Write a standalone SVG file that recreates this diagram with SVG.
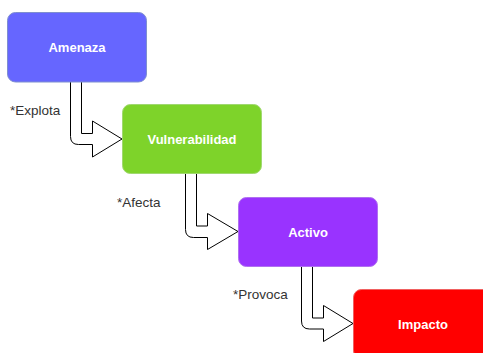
<svg xmlns="http://www.w3.org/2000/svg" width="483" height="353" viewBox="0 0 483 353">
  <style>
    .box { stroke-width: 1; }
    .node-label { font-family: "Liberation Sans", Arial, Helvetica, sans-serif; font-size: 13px; font-weight: bold; fill: #ffffff; text-anchor: middle; dominant-baseline: central; }
    .edge-label { font-family: "Liberation Sans", Arial, Helvetica, sans-serif; font-size: 13.5px; fill: #333333; dominant-baseline: central; }
    .flex-arrow { fill: #ffffff; stroke: #000000; stroke-width: 1; stroke-linejoin: miter; }
  </style>
  <rect width="483" height="353" fill="#ffffff"/>

  <!-- block arrows between the stages -->
  <g id="connectors">
    <path class="flex-arrow" d="M70.5,82 L70.5,136.5 Q70.5,144.5 78.5,144.5 L92.5,144.5 L92.5,157 L122,139 L92.5,121 L92.5,133.5 L81.5,133.5 L81.5,82"/>
    <path class="flex-arrow" d="M185.5,174 L185.5,229.5 Q185.5,237.5 193.5,237.5 L207.5,237.5 L207.5,249.5 L238,231.5 L207.5,213.5 L207.5,226 L196.5,226 L196.5,174"/>
    <path class="flex-arrow" d="M301.5,266 L301.5,321 Q301.5,329 309.5,329 L323.5,329 L323.5,341.5 L353,323.5 L323.5,305.5 L323.5,318 L312.5,318 L312.5,266"/>
    <text class="edge-label" x="10" y="110">*Explota</text>
    <text class="edge-label" x="117" y="202">*Afecta</text>
    <text class="edge-label" x="233" y="294">*Provoca</text>
  </g>

  <g id="amenaza">
    <rect class="box" x="7.5" y="12.5" width="139" height="69.5" rx="8" fill="#6666ff" stroke="#7f8fd0"/>
    <text class="node-label" x="77" y="47">Amenaza</text>
  </g>

  <g id="vulnerabilidad">
    <rect class="box" x="122.5" y="104.5" width="139" height="69" rx="8" fill="#7ed32a" stroke="#a0d870"/>
    <text class="node-label" x="192" y="139">Vulnerabilidad</text>
  </g>

  <g id="activo">
    <rect class="box" x="238.5" y="197.5" width="139" height="69" rx="8" fill="#9933ff" stroke="#b070f0"/>
    <text class="node-label" x="308" y="232">Activo</text>
  </g>

  <g id="impacto">
    <rect class="box" x="353.5" y="289.5" width="139" height="69" rx="8" fill="#ff0000" stroke="#f06060"/>
    <text class="node-label" x="423" y="324">Impacto</text>
  </g>
</svg>
